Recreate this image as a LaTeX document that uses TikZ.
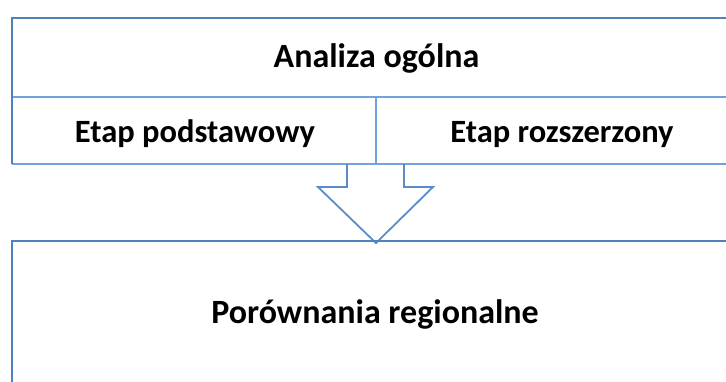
\documentclass[tikz,border=0pt]{standalone}
\usepackage{fontspec}
\setmainfont{Carlito}
\definecolor{outerblue}{HTML}{4F81BD}
\definecolor{innerblue}{HTML}{6FA3DA}
\definecolor{arrowblue}{HTML}{5A8DC8}
\begin{document}
\begin{tikzpicture}[x=1pt,y=-1pt,
  big/.style={font=\bfseries\fontsize{34}{40}\selectfont, inner sep=0pt, anchor=base},
  small/.style={font=\bfseries\fontsize{32.5}{38}\selectfont, inner sep=0pt, anchor=base},
  outer/.style={draw=outerblue, line width=2.2pt},
  inner/.style={draw=innerblue, line width=2pt}]
\useasboundingbox (0,0) rectangle (726,381);
\clip (0,0) rectangle (726,381);
% top box
\coordinate (tl) at (12,18);
\coordinate (tr) at (750,18);
\coordinate (ml) at (12,97);
\coordinate (mr) at (750,97);
\coordinate (bl) at (12,164);
\coordinate (br) at (750,164);
\coordinate (mt) at (376,97);
\coordinate (mb) at (376,164);
\draw[inner] (ml) -- (mr);
\draw[inner] (mt) -- (mb);
\draw[inner] (bl) -- (br);
\draw[outer] (tr) -- (tl) -- (bl);
% arrow
\draw[draw=arrowblue, line width=1.8pt, line join=miter]
  (347,164) -- (347,187) -- (318,187) -- (376,243) -- (433,187) -- (404,187) -- (404,164);
% bottom box
\draw[outer] (750,241) -- (12,241) -- (12,400);
% labels
\node[big] (a) at (376.5,67) {Analiza ogólna};
\node[small] (b) at (195,142) {Etap podstawowy};
\node[small] (c) at (562,142) {Etap rozszerzony};
\node[big] (d) at (375,323) {Porównania regionalne};
\end{tikzpicture}
\end{document}
